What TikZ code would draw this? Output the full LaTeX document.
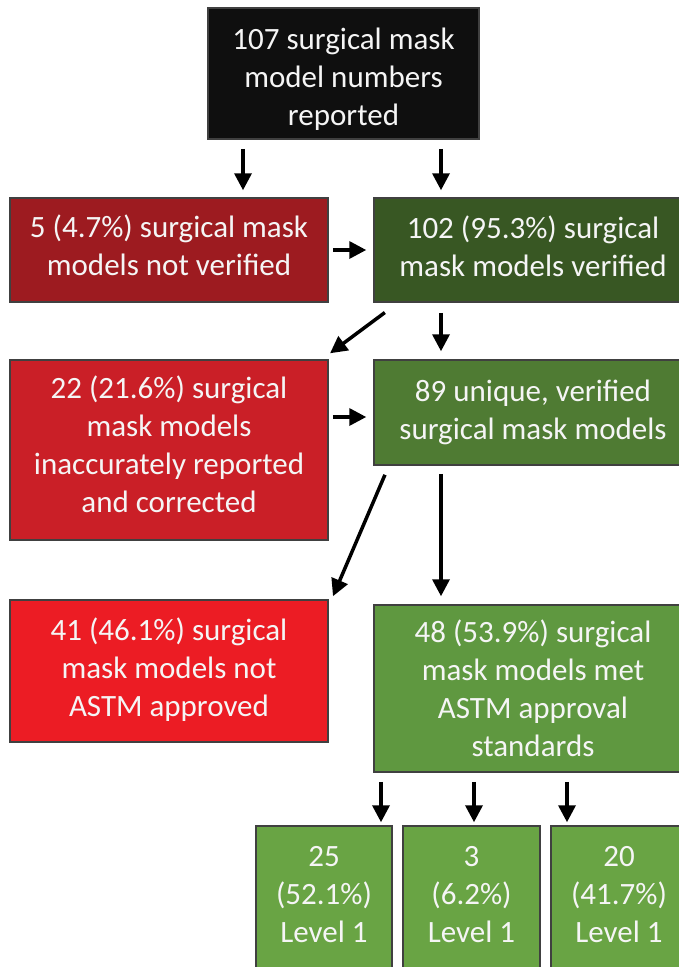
\documentclass[tikz,border=0pt]{standalone}
\usepackage{fontspec}
\setmainfont{Carlito}
\usetikzlibrary{arrows.meta}
\definecolor{topblack}{HTML}{0F0F0F}
\definecolor{redA}{HTML}{9D1B20}
\definecolor{redB}{HTML}{CA1F27}
\definecolor{redC}{HTML}{EC1C24}
\definecolor{greenA}{HTML}{385723}
\definecolor{greenB}{HTML}{4F7B33}
\definecolor{greenC}{HTML}{5F9840}
\definecolor{greenD}{HTML}{69A444}
\definecolor{boxline}{HTML}{404040}
\definecolor{txt}{HTML}{F5F5F5}
\newcommand\boxlines[2]{\raisebox{-#1}[\height][\depth]{\begin{tabular}{@{}c@{}}#2\end{tabular}}}
\begin{document}
\begin{tikzpicture}[x=1pt,y=-1pt,
  box/.style={draw=boxline, line width=1.5pt, text=txt,
    font=\fontsize{31}{38}\selectfont, inner sep=0pt},
  arr/.style={line width=3.5pt, -{Triangle[length=17pt,width=17pt]}}]
\useasboundingbox (0,0) rectangle (679,967);
\clip (0,0) rectangle (679,967);
\fill[white] (0,0) rectangle (679,967);
\node[box, fill=topblack, minimum width=271pt, minimum height=131pt] (top) at (343.5,73.5) {\boxlines{6pt}{107 surgical mask\\model numbers\\reported}};
\node[box, fill=redA, minimum width=318pt, minimum height=104pt] (red1) at (169,250) {\boxlines{-1pt}{5 (4.7\%) surgical mask\\models not verified}};
\node[box, fill=greenA, minimum width=318pt, minimum height=104pt] (green1) at (533,250) {\boxlines{0pt}{102 (95.3\%) surgical\\mask models verified}};
\node[box, fill=redB, minimum width=318pt, minimum height=180pt] (red2) at (169,450) {\boxlines{-2pt}{22 (21.6\%) surgical\\mask models\\inaccurately reported\\and corrected}};
\node[box, fill=greenB, minimum width=318pt, minimum height=105pt] (green2) at (533,412.5) {\boxlines{0pt}{89 unique, verified\\surgical mask models}};
\node[box, fill=redC, minimum width=318pt, minimum height=142pt] (red3) at (169,671) {\boxlines{0pt}{41 (46.1\%) surgical\\mask models not\\ASTM approved}};
\node[box, fill=greenC, minimum width=318pt, minimum height=167pt] (green3) at (533,688.5) {\boxlines{3pt}{48 (53.9\%) surgical\\mask models met\\ASTM approval\\standards}};
\node[box, fill=greenD, minimum width=136pt, minimum height=142pt] (l1) at (324,897) {\boxlines{0pt}{25\\(52.1\%)\\Level 1}};
\node[box, fill=greenD, minimum width=137pt, minimum height=142pt] (l2) at (471.5,897) {\boxlines{0pt}{3\\(6.2\%)\\Level 1}};
\node[box, fill=greenD, minimum width=136pt, minimum height=142pt] (l3) at (619,897) {\boxlines{0pt}{20\\(41.7\%)\\Level 1}};
% helper coordinates
\coordinate (xa) at (243,0);
\coordinate (xb) at (441,0);
\coordinate (yc) at (0,417);
\coordinate (d1) at (398,0);
\coordinate (d2) at (322,0);
\coordinate (d3) at (388.8,0);
\coordinate (d4) at (331.7,0);
\coordinate (xl1) at (381,0);
\coordinate (xl2) at (474,0);
\coordinate (xl3) at (567,0);
% connectors
\draw[arr, shorten <=9pt, shorten >=7pt] (top.south -| xa) -- (red1.north -| xa);
\draw[arr, shorten <=9pt, shorten >=7pt] (top.south -| xb) -- (green1.north -| xb);
\draw[arr, shorten <=4pt, shorten >=7pt] (red1.east) -- (green1.west);
\draw[arr, shorten <=16.4pt, shorten >=10pt] (green1.south -| d1) -- (red2.north -| d2);
\draw[arr, shorten <=10pt, shorten >=8pt] (green1.south -| xb) -- (green2.north -| xb);
\draw[arr, shorten <=4pt, shorten >=7pt] (red2.east |- yc) -- (green2.west |- yc);
\draw[arr, shorten <=9.8pt, shorten >=3.3pt] (green2.south -| d3) -- (red3.north -| d4);
\draw[arr, shorten <=8pt, shorten >=8pt] (green2.south -| xb) -- (green3.north -| xb);
\draw[arr, shorten <=9pt, shorten >=3pt] (green3.south -| xl1) -- (l1.north -| xl1);
\draw[arr, shorten <=9pt, shorten >=3pt] (green3.south -| xl2) -- (l2.north -| xl2);
\draw[arr, shorten <=9pt, shorten >=3pt] (green3.south -| xl3) -- (l3.north -| xl3);
\end{tikzpicture}
\end{document}
